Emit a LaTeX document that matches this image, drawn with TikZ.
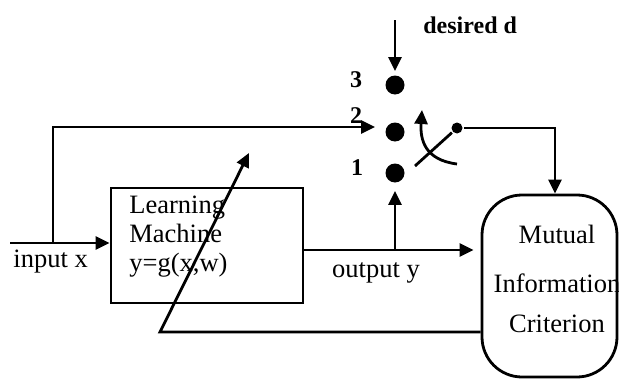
\documentclass[tikz,border=0pt]{standalone}
\usepackage{fontspec}
\setmainfont{Liberation Serif}
\usetikzlibrary{arrows.meta,calc}
\begin{document}
\begin{tikzpicture}[x=1pt,y=-1pt,
  line width=2.8pt,
  tip/.style={-{Triangle[length=14pt,width=13pt]}},
  lbl/.style={font=\fontsize{26.5}{30}\selectfont, inner sep=0pt},
  blbl/.style={font=\bfseries\fontsize{24}{28}\selectfont, inner sep=0pt},
  bigdot/.style={circle, fill, inner sep=0pt, minimum size=19pt},
  smalldot/.style={circle, fill, inner sep=0pt, minimum size=11pt}]
\useasboundingbox (0,0) rectangle (619,380);
% boxes
\node[draw, minimum width=192pt, minimum height=115pt, inner sep=0pt] (lm) at (207,245.5) {};
\node[draw, rounded corners=40pt, minimum width=135pt, minimum height=182pt, inner sep=0pt] (mi) at (549.5,286) {};
% dots
\node[bigdot] (d3) at (395,85) {};
\node[bigdot] (d2) at (395,132) {};
\node[bigdot] (d1) at (395,173) {};
\node[smalldot] (sw) at (457,128) {};
% texts
\node[lbl, anchor=base west] (t1) at (128,213) {Learning};
\node[lbl, anchor=base west] (t2) at (128,242) {Machine};
\node[lbl, anchor=base west] (t3) at (128,271) {y=g(x,w)};
\node[lbl, anchor=base] (m1) at (557,243) {Mutual};
\node[lbl, anchor=base] (m2) at (557,292) {Information};
\node[lbl, anchor=base] (m3) at (557,332) {Criterion};
\node[lbl, anchor=base west] (tin) at (12,267) {input x};
\node[lbl, anchor=base] (tout) at (376,277) {output y};
\node[blbl, anchor=base west] (td) at (422,33) {desired d};
\node[blbl, anchor=base] (n3) at (356,87) {3};
\node[blbl, anchor=base] (n2) at (356,123) {2};
\node[blbl, anchor=base] (n1) at (357,175) {1};
% coordinates
\coordinate (dtop) at (395,20);
\coordinate (in) at (10,243);
\coordinate (j1) at (53,243);
\coordinate (yout) at (0,250);
\coordinate (c1) at (555,128);
\coordinate (fb) at (160,332);
\coordinate (fbtip) at (249,153);
\coordinate (swl) at (415,166);
\coordinate (swa) at (457,164);
\coordinate (swt) at (422,110);
% connectors
\draw[tip, shorten >=3pt] (dtop) -- (d3.north);
\draw[tip] (in) -- (lm.west |- in);
\draw[tip, shorten >=9pt] (j1) |- ($(d2.west)+(0,-5)$);
\draw[tip, shorten >=7pt] (lm.east |- yout) -- (mi.west |- yout);
\draw[tip, shorten >=7pt] (d1 |- yout) -- (d1.south);
\draw[tip] (sw) -- (c1) -- (c1 |- mi.north);
\draw[tip] (mi.west |- fb) -- (fb) -- (fbtip);
\draw (swl) -- (sw);
\draw[tip] (swa) .. controls (425,160) and (420,140) .. (swt);
\end{tikzpicture}
\end{document}
